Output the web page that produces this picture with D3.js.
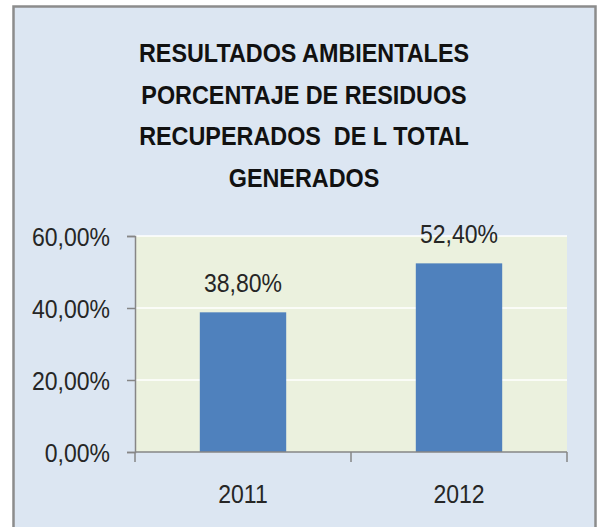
<!DOCTYPE html>
<html>
<head>
<meta charset="utf-8">
<script src="https://cdn.jsdelivr.net/npm/d3@7"></script>
<style>
  body { margin: 0; background: #fff; }
  text { font-family: "Liberation Sans", Arial, sans-serif; fill: #262626; }
  .title { font-weight: bold; font-size: 25px; fill: #111; white-space: pre; }
  .lbl { font-size: 26px; }
</style>
</head>
<body>
<svg id="chart" width="599" height="527"></svg>
<script>
// data
var years = ["2011", "2012"];
var values = [0.388, 0.524];
var valueLabels = ["38,80%", "52,40%"];
var yTicks = [0, 0.2, 0.4, 0.6];
var yTickLabels = ["0,00%", "20,00%", "40,00%", "60,00%"];
var titleLines = ["RESULTADOS AMBIENTALES", "PORCENTAJE DE RESIDUOS", "RECUPERADOS  DE L TOTAL", "GENERADOS"];

var svg = d3.select("#chart");
var plot = {left: 135, right: 567, top: 236, bottom: 452};
// the original font is narrower than Liberation Sans, squeeze it a bit
var titleSquash = 0.935, lblSquash = 0.885;

function place(px, py, sx) {
    return "translate(" + px + "," + py + ") scale(" + sx + ",1)";
}

// outer chart frame
svg.append("rect")
    .attr("x", 13.5).attr("y", 6.5)
    .attr("width", 582).attr("height", 530)
    .attr("fill", "#dce6f2")
    .attr("stroke", "#8c8c8c")
    .attr("stroke-width", 2.5);

// title
svg.append("g").selectAll("text")
    .data(titleLines)
    .enter()
    .append("text")
    .attr("class", "title")
    .attr("transform", function (_d, i) { return place(304, 62 + i * 41.7, titleSquash); })
    .attr("text-anchor", "middle")
    .text(function (d) { return d; });

var x = d3.scaleBand()
    .domain(years)
    .range([plot.left, plot.right])
    .paddingInner(0.6)
    .paddingOuter(0.3);

var y = d3.scaleLinear()
    .domain([0, 0.6])
    .range([plot.bottom, plot.top]);

// plot area
svg.append("rect")
    .attr("x", plot.left).attr("y", y(0.6))
    .attr("width", plot.right - plot.left)
    .attr("height", y(0) - y(0.6))
    .attr("fill", "#ebf1de");

// gridlines
svg.append("g").selectAll("line")
    .data(yTicks.slice(1))
    .enter()
    .append("line")
    .attr("x1", plot.left).attr("x2", plot.right)
    .attr("y1", function (d) { return y(d); })
    .attr("y2", function (d) { return y(d); })
    .attr("stroke", "#fff")
    .attr("stroke-width", 1.5);

// bars
svg.append("g").selectAll("rect")
    .data(values)
    .enter()
    .append("rect")
    .attr("x", function (_d, i) { return x(years[i]); })
    .attr("y", function (d) { return y(d); })
    .attr("width", x.bandwidth())
    .attr("height", function (d) { return y(0) - y(d); })
    .attr("fill", "#4f81bd");

// value labels
svg.append("g").selectAll("text")
    .data(values)
    .enter()
    .append("text")
    .attr("class", "lbl")
    .attr("transform", function (d, i) {
        return place(x(years[i]) + x.bandwidth() / 2, y(d) - 20, lblSquash);
    })
    .attr("text-anchor", "middle")
    .text(function (_d, i) { return valueLabels[i]; });

// y axis
var yAxis = d3.axisLeft(y)
    .tickValues(yTicks)
    .tickSize(8)
    .tickPadding(17)
    .tickFormat(function (_d, i) { return yTickLabels[i]; });
var gy = svg.append("g")
    .attr("transform", "translate(" + plot.left + ",0)")
    .call(yAxis);
gy.attr("font-family", null).attr("font-size", null);
gy.select(".domain").attr("stroke", "#868686").attr("stroke-width", 1.5);
gy.selectAll(".tick line").attr("stroke", "#868686").attr("stroke-width", 1.5);
gy.selectAll(".tick text")
    .attr("class", "lbl")
    .attr("x", 0)
    .attr("dy", "0.35em")
    .attr("transform", place(-25, 0, lblSquash))
    .attr("fill", "#262626");

// x axis: ticks sit on category boundaries
var bounds = [plot.left].concat(years.map(function (d) { return x(d) - x.step() * x.paddingOuter() + x.step(); }));
var gx = svg.append("g");
gx.append("line")
    .attr("x1", plot.left).attr("x2", plot.right)
    .attr("y1", plot.bottom).attr("y2", plot.bottom)
    .attr("stroke", "#868686").attr("stroke-width", 1.5);
gx.selectAll("line.tk")
    .data(bounds)
    .enter()
    .append("line")
    .attr("class", "tk")
    .attr("x1", function (d) { return d; }).attr("x2", function (d) { return d; })
    .attr("y1", plot.bottom).attr("y2", plot.bottom + 10)
    .attr("stroke", "#868686").attr("stroke-width", 1.5);
gx.selectAll("text")
    .data(years)
    .enter()
    .append("text")
    .attr("class", "lbl")
    .attr("transform", function (d) { return place(x(d) + x.bandwidth() / 2, 503, lblSquash); })
    .attr("text-anchor", "middle")
    .text(function (d) { return d; });
</script>
</body>
</html>
